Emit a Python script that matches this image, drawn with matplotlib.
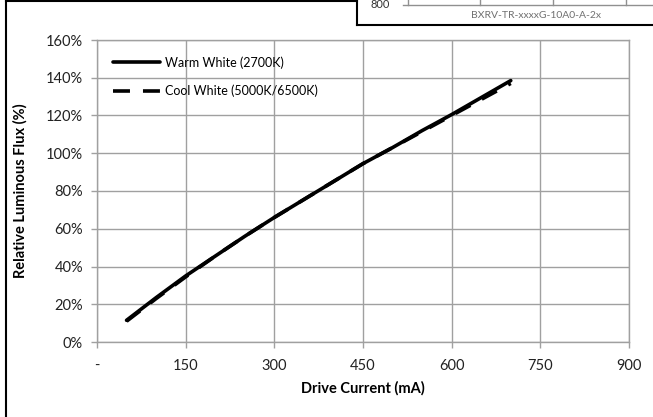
import matplotlib.pyplot as plt
from matplotlib.lines import Line2D
from matplotlib.ticker import FuncFormatter

plt.rcParams['font.family'] = ['Lato', 'DejaVu Sans']

# drive current (mA) and relative luminous flux (%)
current_ma = [50, 100, 150, 200, 250, 300, 350, 400, 450, 500, 550, 600, 650, 700]
warm_flux = [11.5, 23.5, 35.0, 45.5, 56.0, 66.0, 75.5, 85.0, 94.5, 103.0, 112.0, 120.5, 129.5, 138.5]
cool_flux = [11.0, 23.0, 34.5, 45.5, 56.0, 66.0, 75.5, 85.0, 94.5, 103.0, 111.5, 120.0, 128.5, 137.0]

x_ticks = [0, 150, 300, 450, 600, 750, 900]
y_ticks = [0, 20, 40, 60, 80, 100, 120, 140, 160]

W, H = 653, 417
fig = plt.figure(figsize=(W / 100, H / 100), dpi=100)


def px(x, y):
    return x / W, 1 - y / H


# plot area in pixels: left 97, right 629, top 40, bottom 342
l, r, t, b = 97, 629, 40, 342
ax = fig.add_axes([l / W, 1 - b / H, (r - l) / W, (b - t) / H])

ax.plot(current_ma, warm_flux, color='black', lw=2.6, solid_capstyle='round',
        label='Warm White (2700K)')
ax.plot(current_ma, cool_flux, color='black', lw=2.6, dashes=(4.7, 3.6),
        label='Cool White (5000K/6500K)')

ax.set_xlim(0, 900)
ax.set_ylim(0, 160)
ax.set_xticks(x_ticks)
ax.set_yticks(y_ticks)
ax.xaxis.set_major_formatter(FuncFormatter(lambda v, p: '-' if v == 0 else f'{int(v)}'))
ax.yaxis.set_major_formatter(FuncFormatter(lambda v, p: f'{int(v)}%'))

ax.grid(True, color='#a0a0a0', lw=1)
ax.set_axisbelow(True)
for s in ax.spines.values():
    s.set_color('#a0a0a0')
    s.set_linewidth(1)
ax.tick_params(colors='#a0a0a0', length=4, width=1, labelcolor='#222222', labelsize=10.5)
ax.tick_params(axis='x', pad=8)
ax.tick_params(axis='y', pad=6)

ax.set_xlabel('Drive Current (mA)', fontsize=10.5, fontweight='bold', labelpad=6)
ax.set_ylabel('Relative Luminous Flux (%)', fontsize=10.5, fontweight='bold', labelpad=13)

ax.legend(loc='upper left', frameon=False, fontsize=9, handlelength=3.7,
          borderaxespad=0.9, labelspacing=1.25, handletextpad=0.45,
          borderpad=0.4)

# outer frame of the page region
frame = [
    ((6, 1), (6, 417)),
    ((6, 1), (357, 1)),
    ((357, 1), (357, 25)),
    ((357, 25), (653, 25)),
]
for (x0, y0), (x1, y1) in frame:
    a, c = px(x0, y0)
    bb, d = px(x1, y1)
    fig.add_artist(Line2D([a, bb], [c, d], color='black', lw=1.5, transform=fig.transFigure))

# fragment of the neighbouring chart at the top right
a, c = px(403, 5)
bb, d = px(653, 5)
fig.add_artist(Line2D([a, bb], [c, d], color='#909090', lw=1, transform=fig.transFigure))
for gx in [408, 480, 553, 626]:
    a, c = px(gx, 0)
    bb, d = px(gx, 5)
    fig.add_artist(Line2D([a, bb], [c, d], color='#909090', lw=1, transform=fig.transFigure))
fig.text(*px(380, 4), '800', fontsize=8, ha='center', va='center', color='#333333')
fig.text(*px(536, 15), 'BXRV-TR-xxxxG-10A0-A-2x', fontsize=7.5, ha='center', va='center',
         color='#707070')

fig.savefig('out.png', dpi=100)
